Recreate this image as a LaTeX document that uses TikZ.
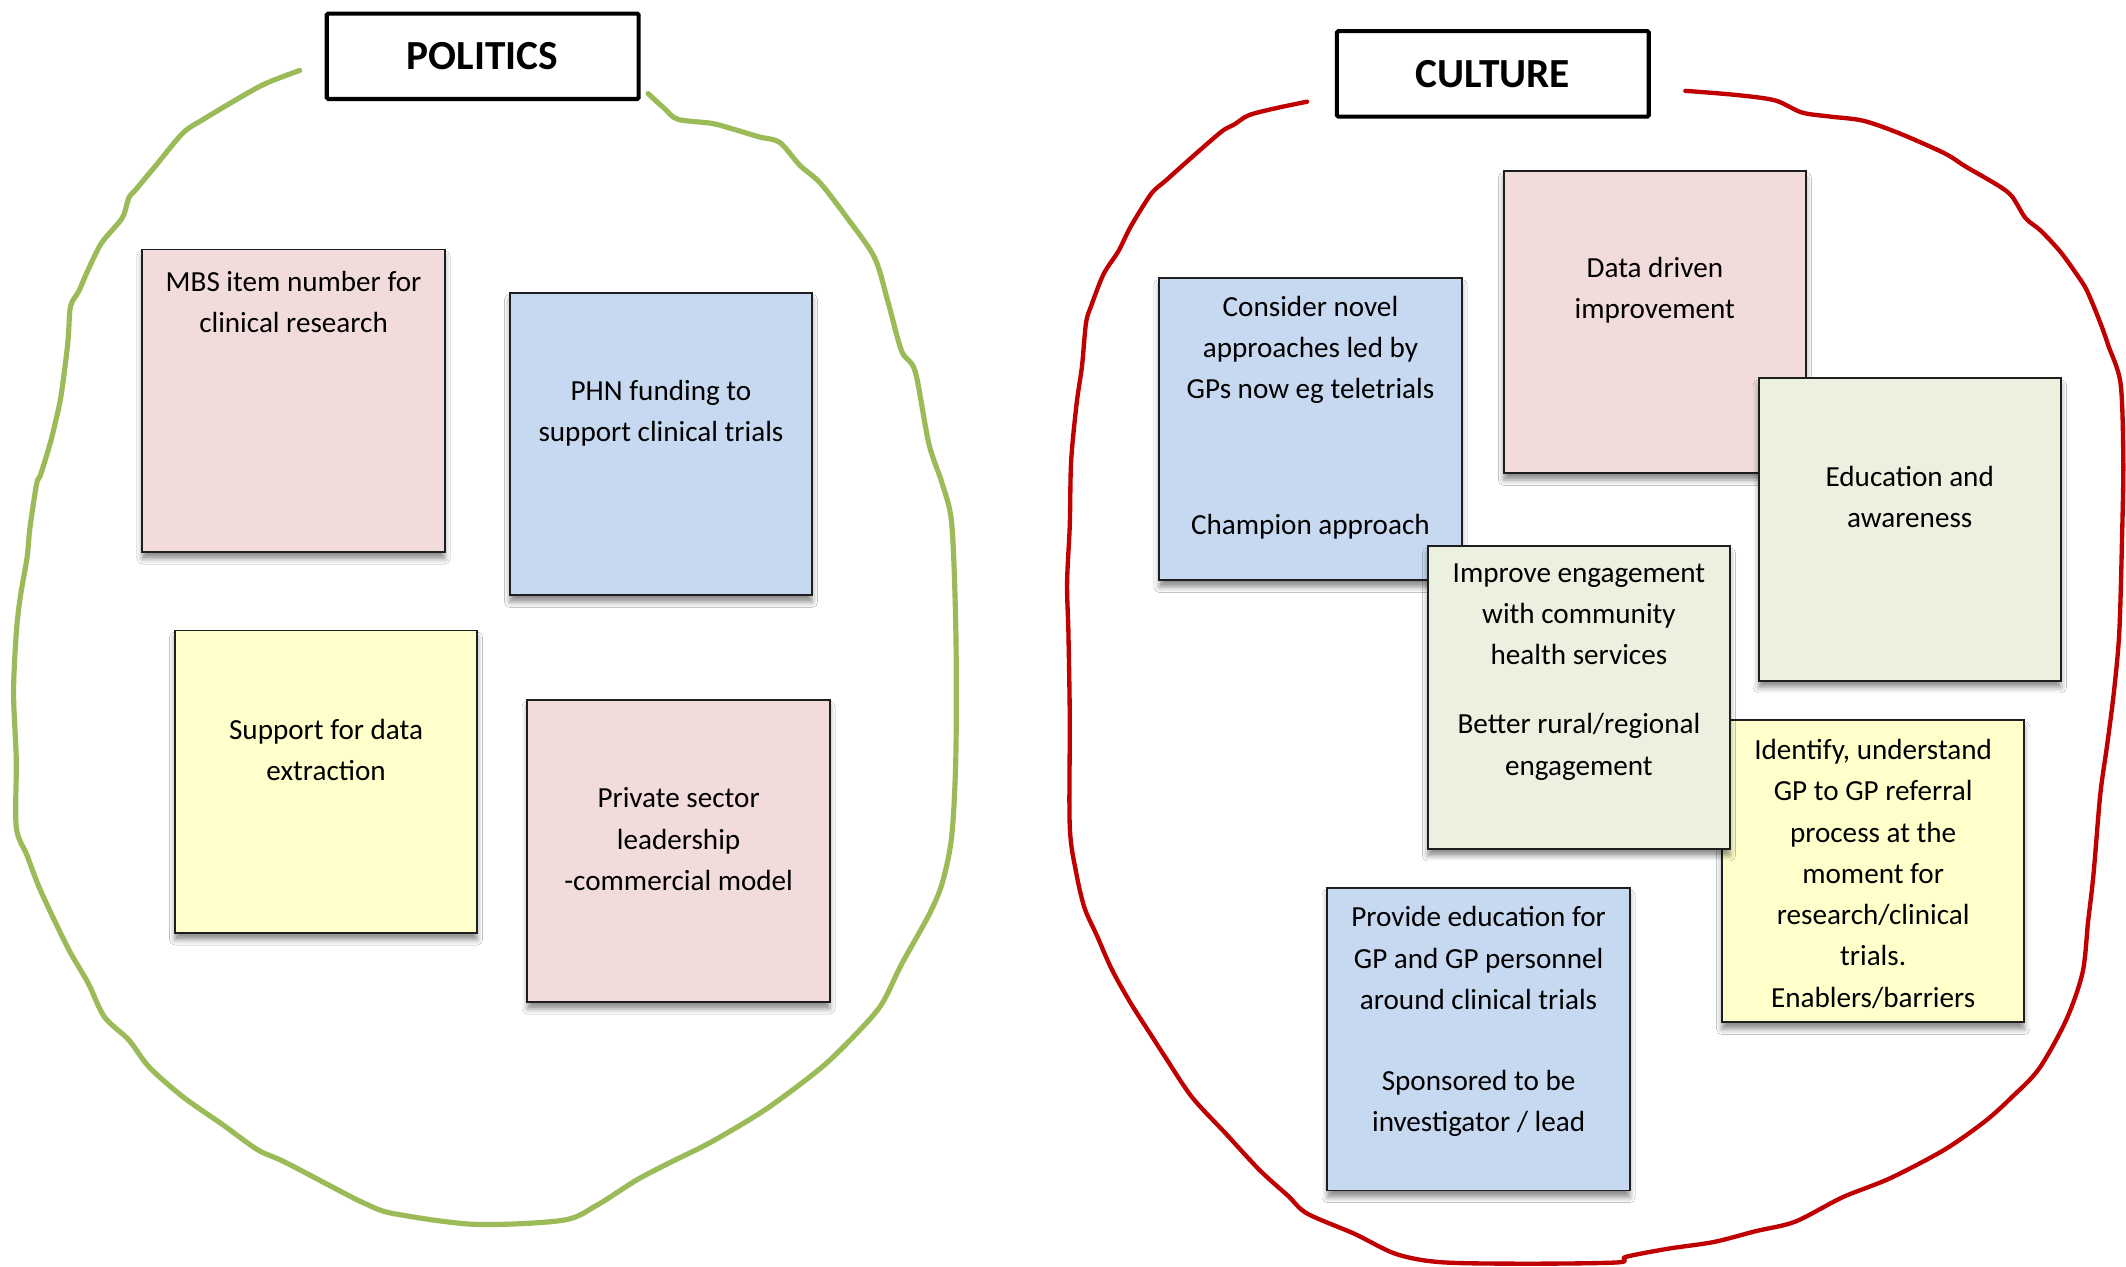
\documentclass[tikz,border=0pt]{standalone}
\usepackage{fontspec}
\setmainfont{Carlito}
\usetikzlibrary{shadows.blur}
\definecolor{cpink}{HTML}{F2DCDB}
\definecolor{cblue}{HTML}{C6D9F1}
\definecolor{cyellow}{HTML}{FFFFCC}
\definecolor{cgreen}{HTML}{EBF1DE}
\definecolor{lgreen}{HTML}{9BBB59}
\definecolor{lred}{HTML}{C00000}
\definecolor{edge}{HTML}{1E1E1E}
\tikzset{
  card/.style={draw=edge, line width=1.4pt, minimum width=223pt, minimum height=223pt, inner sep=0pt,
    blur shadow={shadow xshift=0pt, shadow yshift=-5pt, shadow blur radius=4pt, shadow opacity=45}},
  cardtext/.style={align=center, inner sep=0pt, text=black, font=\fontsize{21.5}{30.4}\selectfont},
  titlebox/.style={draw=black, line width=3pt, rounded corners=1pt, fill=white, minimum width=230pt, minimum height=63pt, inner sep=0pt,
    font=\fontsize{30.5}{36}\selectfont\bfseries},
  loop/.style={line width=3.8pt, line cap=round, line join=round}
}
\begin{document}
\begin{tikzpicture}[x=1pt, y=-1pt]
\useasboundingbox (0,0) rectangle (1568,934);
\fill[white] (0,0) rectangle (1568,934);

% outlines
\draw[loop, draw=lgreen] plot[smooth, tension=0.5] coordinates {
(221,52) (195,62) (170,76) (150,88) (135,98) (115,122) (100,140) (95,146) (90,161) (75,179) (65,199) (58,215) (52,226) (50,253) (45,292) (40,315) (37,327) (30,350) (27,357) (22,390) (20,411) (15,440) (12,467) (10,511) (12,560) (12,610) (20,631) (30,657) (50,699) (65,725) (77,750) (95,767) (110,787) (135,809) (165,830) (190,848) (210,857) (250,878) (270,888) (290,895) (350,903) (415,900) (440,889) (470,870) (495,857) (525,842) (565,818) (605,788) (630,764) (650,741) (665,711) (685,675) (695,651) (702,616) (705,556) (705,467) (702,387) (695,357) (685,327) (675,274) (665,259) (655,223) (645,190) (625,161) (605,135) (590,122) (575,105) (560,101) (540,95) (525,91) (500,88) (490,80) (478,69)};

\draw[loop, line width=3.2pt, draw=lred] plot[smooth, tension=0.5] coordinates {
(964,75) (940,80) (921,85) (910,92) (901,97) (879,116) (860,133) (849,143) (834,167) (825,185) (814,202) (805,225) (801,238) (798,270) (794,298) (790,340) (789,387) (787,430) (788,467) (789,530) (789,610) (794,645) (800,670) (809,690) (820,715) (834,740) (850,765) (859,779) (879,809) (904,836) (929,863) (950,882) (964,895) (999,910) (1030,925) (1064,931) (1130,932) (1194,931) (1199,927) (1230,921) (1264,916) (1295,908) (1324,901) (1359,883) (1394,869) (1434,848) (1464,827) (1484,809) (1504,788) (1524,752) (1536,717) (1540,680) (1544,645) (1549,586) (1554,550) (1559,511) (1563,467) (1565,400) (1566,340) (1564,283) (1555,255) (1549,238) (1539,214) (1530,200) (1519,185) (1505,170) (1494,161) (1484,145) (1474,137) (1450,123) (1434,113) (1400,98) (1374,89) (1350,86) (1329,83) (1309,74) (1280,70) (1243,67)};

% titles
\node[titlebox] (politics) at (356,41.5) {POLITICS};
\node[titlebox] (culture) at (1101,54.5) {CULTURE};

% politics cards
\node[card, fill=cpink] (mbs) at (216.5,295.5) {};
\node[cardtext] (mbsT) at (216.5,223) {MBS item number for\\clinical research};

\node[card, fill=cblue] (phn) at (487.5,327.5) {};
\node[cardtext] (phnT) at (487.5,305) {PHN funding to\\support clinical trials};

\node[card, fill=cyellow] (sup) at (240.5,576.5) {};
\node[cardtext] (supT) at (240.5,553) {Support for data\\extraction};

\node[card, fill=cpink] (priv) at (500.5,627.5) {};
\node[cardtext] (privT) at (500.5,619) {Private sector\\leadership\\-commercial model};

% culture cards
\node[card, fill=cblue] (cons) at (966.5,316.5) {};
\node[cardtext] (consT) at (966.5,308) {Consider novel\\approaches led by\\GPs now eg teletrials\\[69.5pt]Champion approach};

\node[card, fill=cpink] (data) at (1220.5,237.5) {};
\node[cardtext] (dataT) at (1220.5,214) {Data driven\\improvement};

\node[card, fill=cgreen] (edu) at (1408.5,390.5) {};
\node[cardtext] (eduT) at (1408.5,366.5) {Education and\\awareness};

\node[card, fill=cyellow] (ident) at (1381.5,642.5) {};
\node[cardtext] (identT) at (1381.5,644.5) {Identify, understand\\GP to GP referral\\process at the\\moment for\\research/clinical\\trials.\\Enablers/barriers};

\node[card, fill=cgreen] (impr) at (1164.5,514.5) {};
\node[cardtext] (imprT) at (1164.5,495.5) {Improve engagement\\with community\\health services\\[20.5pt]Better rural/regional\\engagement};

\node[card, fill=cblue] (prov) at (1090.5,766.5) {};
\node[cardtext] (provT) at (1090.5,753.5) {Provide education for\\GP and GP personnel\\around clinical trials\\[29.5pt]Sponsored to be\\investigator / lead};
\end{tikzpicture}
\end{document}
